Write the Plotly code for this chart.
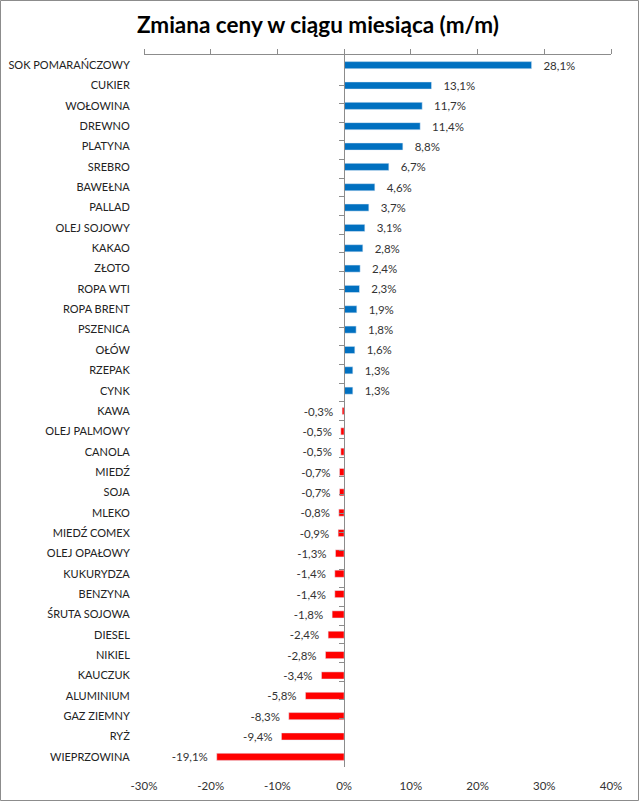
import plotly.graph_objects as go

categories = ["SOK POMARAŃCZOWY", "CUKIER", "WOŁOWINA", "DREWNO", "PLATYNA", "SREBRO",
              "BAWEŁNA", "PALLAD", "OLEJ SOJOWY", "KAKAO", "ZŁOTO", "ROPA WTI", "ROPA BRENT",
              "PSZENICA", "OŁÓW", "RZEPAK", "CYNK", "KAWA", "OLEJ PALMOWY", "CANOLA", "MIEDŹ",
              "SOJA", "MLEKO", "MIEDŹ COMEX", "OLEJ OPAŁOWY", "KUKURYDZA", "BENZYNA",
              "ŚRUTA SOJOWA", "DIESEL", "NIKIEL", "KAUCZUK", "ALUMINIUM", "GAZ ZIEMNY", "RYŻ",
              "WIEPRZOWINA"]
values = [28.1, 13.1, 11.7, 11.4, 8.8, 6.7, 4.6, 3.7, 3.1, 2.8, 2.4, 2.3, 1.9, 1.8, 1.6, 1.3, 1.3,
          -0.3, -0.5, -0.5, -0.7, -0.7, -0.8, -0.9, -1.3, -1.4, -1.4, -1.8, -2.4, -2.8, -3.4,
          -5.8, -8.3, -9.4, -19.1]
tick_vals = [-30, -20, -10, 0, 10, 20, 30, 40]
tick_text = ["-30%", "-20%", "-10%", "0%", "10%", "20%", "30%", "40%"]

BLUE = "#0070C0"
RED = "#FF0000"
NB = "\u00a0"
FONT = "Lato, Open Sans, sans-serif"
AXC = "#8c8c8c"

pos_cat = [c for c, v in zip(categories, values) if v >= 0]
pos_val = [v for v in values if v >= 0]
neg_cat = [c for c, v in zip(categories, values) if v < 0]
neg_val = [v for v in values if v < 0]

def fmt(v):
    return f"{v:.1f}%".replace(".", ",")

W, H = 640, 802
ml, mr, mt, mb = 144, 29, 55, 35

fig = go.Figure()
fig.add_trace(go.Bar(
    y=pos_cat, x=pos_val, orientation="h", marker_color=BLUE,
    text=[NB * 3 + fmt(v) for v in pos_val], textposition="outside", constraintext="none",
    textfont=dict(family=FONT, size=11.5, color="#333333"),
    cliponaxis=False, showlegend=False, hoverinfo="skip",
))
fig.add_trace(go.Bar(
    y=neg_cat, x=neg_val, orientation="h", marker_color=RED,
    text=[fmt(v) + NB * 2 for v in neg_val], textposition="outside", constraintext="none",
    textfont=dict(family=FONT, size=11.5, color="#333333"),
    cliponaxis=False, showlegend=False, hoverinfo="skip",
))
# invisible helper trace for the zero-line category axis and bottom value labels
fig.add_trace(go.Scatter(
    y=categories, x=[0] * len(categories), xaxis="x2", yaxis="y2",
    mode="markers", marker=dict(opacity=0), showlegend=False, hoverinfo="skip",
))

zero_pos = (0 - tick_vals[0]) / (tick_vals[-1] - tick_vals[0])

fig.update_layout(
    width=W, height=H,
    margin=dict(l=ml, r=mr, t=mt, b=mb, autoexpand=False),
    paper_bgcolor="white", plot_bgcolor="white",
    barmode="overlay", bargap=0.65,
    title=dict(text="<b>Zmiana ceny w ciągu miesiąca (m/m)</b>", automargin=False,
               x=318 / W, xref="container", xanchor="center",
               y=1 - 25 / H, yref="container", yanchor="middle",
               font=dict(family=FONT, size=22.5, color="#000000")),
    xaxis=dict(range=[tick_vals[0], tick_vals[-1]], side="top", showline=True,
               linecolor=AXC, linewidth=1, ticks="outside", ticklen=5,
               tickcolor=AXC, tickvals=tick_vals, showticklabels=False,
               showgrid=False, zeroline=False, automargin=False),
    xaxis2=dict(range=[tick_vals[0], tick_vals[-1]], overlaying="x", side="bottom",
                anchor="y", showline=False, ticks="", tickvals=tick_vals, ticktext=tick_text,
                tickfont=dict(family=FONT, size=11.5, color="#333333"),
                showgrid=False, zeroline=False, ticklabelstandoff=10, automargin=False),
    yaxis=dict(categoryorder="array", categoryarray=categories, autorange="reversed",
               showline=False, ticks="outside", ticklen=11, tickcolor="rgba(0,0,0,0)",
               tickfont=dict(family=FONT, size=11, color="#222222"),
               showgrid=False, zeroline=False, automargin=False),
    yaxis2=dict(categoryorder="array", categoryarray=categories, autorange="reversed",
                overlaying="y", anchor="free", position=zero_pos, side="left",
                showline=True, linecolor=AXC, linewidth=1,
                ticks="outside", tickson="boundaries", ticklen=5, tickcolor=AXC,
                showticklabels=False, showgrid=False, zeroline=False, automargin=False),
    shapes=[dict(type="rect", xref="paper", yref="paper",
                 x0=-(ml - 0.5) / (W - ml - mr), x1=1 + (mr - 1.5) / (W - ml - mr),
                 y0=-(mb - 1.5) / (H - mt - mb), y1=1 + (mt - 0.5) / (H - mt - mb),
                 line=dict(color=AXC, width=1), fillcolor="rgba(0,0,0,0)")],
)

fig.write_html("out.html", config={"displayModeBar": False},
               post_script="document.body.style.margin='0';")
